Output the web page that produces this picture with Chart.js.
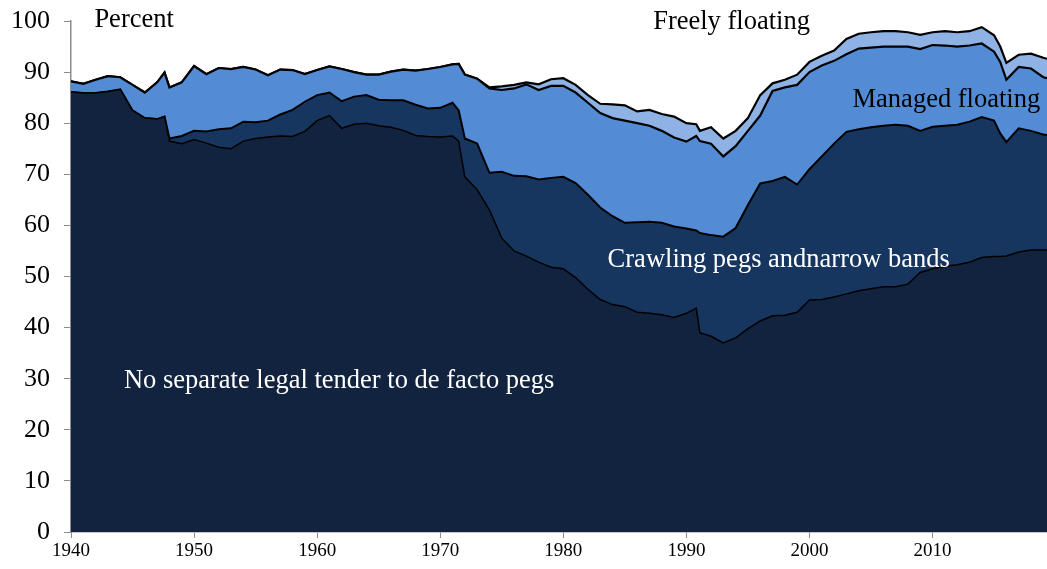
<!DOCTYPE html>
<html>
<head>
<meta charset="utf-8">
<script src="https://cdn.jsdelivr.net/npm/chart.js@4"></script>
<style>
  html, body { margin: 0; padding: 0; background: #ffffff; }
  #wrap { width: 1047px; height: 569px; position: relative; }
</style>
</head>
<body>
<div id="wrap"><canvas id="chart"></canvas></div>
<script>
// Years of the sampled points
const years = [
  1940, 1941, 1942, 1943, 1944, 1945, 1946, 1947, 1947.6, 1948, 1949,
  1950, 1951, 1952, 1953, 1954, 1955, 1956, 1957, 1958, 1959,
  1960, 1961, 1962, 1963, 1964, 1965, 1966, 1967, 1968, 1969,
  1970, 1971, 1971.5, 1972, 1973, 1974, 1975, 1976, 1977, 1978, 1979,
  1980, 1981, 1982, 1983, 1984, 1985, 1986, 1987, 1988, 1989,
  1990, 1990.8, 1991.1, 1992, 1993, 1994, 1995, 1996, 1997, 1998, 1999,
  2000, 2001, 2002, 2003, 2004, 2005, 2006, 2007, 2008, 2009,
  2010, 2011, 2012, 2013, 2014, 2015, 2015.5, 2016, 2017, 2018, 2019, 2019.3
]

// Cumulative shares (percent), bottom layer first
const pegsTop = [
  86.1, 85.9, 85.9, 86.2, 86.6, 82.5, 81.0, 80.8, 81.3, 76.5, 76.0,
  76.8, 76.1, 75.3, 75.0, 76.5, 77.0, 77.3, 77.5, 77.4, 78.4,
  80.5, 81.5, 79.0, 79.8, 80.0, 79.5, 79.2, 78.6, 77.6, 77.4,
  77.3, 77.5, 76.5, 69.5, 67.0, 63.0, 57.5, 55.0, 54.0, 52.8, 51.8,
  51.5, 49.8, 47.5, 45.5, 44.5, 44.1, 43.0, 42.8, 42.5, 42.0,
  42.8, 43.8, 39.0, 38.3, 37.0, 38.0, 39.8, 41.3, 42.3, 42.4, 43.0,
  45.4, 45.5, 46.0, 46.6, 47.2, 47.6, 48.0, 48.0, 48.5, 50.8,
  51.5, 52.0, 52.3, 52.8, 53.7, 53.9, 53.9, 54.0, 54.8, 55.2, 55.2, 55.2
]
const crawlingTop = [
  86.1, 85.9, 85.9, 86.2, 86.6, 82.5, 81.0, 80.8, 81.3, 77.0, 77.5,
  78.5, 78.4, 78.8, 79.0, 80.3, 80.2, 80.5, 81.7, 82.6, 84.2,
  85.5, 86.0, 84.3, 85.2, 85.5, 84.6, 84.5, 84.5, 83.6, 82.9,
  83.0, 84.0, 82.5, 77.0, 76.0, 70.3, 70.5, 69.7, 69.6, 69.0, 69.3,
  69.5, 68.3, 66.0, 63.5, 61.8, 60.5, 60.6, 60.7, 60.5, 59.8,
  59.4, 59.0, 58.5, 58.1, 57.8, 59.5, 64.0, 68.2, 68.7, 69.5, 68.0,
  71.0, 73.5, 76.0, 78.3, 78.8, 79.2, 79.5, 79.7, 79.5, 78.5,
  79.3, 79.5, 79.7, 80.3, 81.2, 80.5, 78.0, 76.3, 79.0, 78.5, 77.8, 77.7
]
const managedTop = [
  88.2, 87.7, 88.5, 89.2, 89.0, 87.5, 86.0, 88.0, 89.9, 87.0, 88.0,
  91.2, 89.6, 90.8, 90.6, 91.0, 90.5, 89.4, 90.5, 90.4, 89.6,
  90.4, 91.1, 90.6, 90.0, 89.5, 89.5, 90.1, 90.5, 90.3, 90.6,
  91.0, 91.5, 91.6, 89.5, 88.7, 86.8, 86.5, 86.8, 87.6, 86.5, 87.3,
  87.3, 86.0, 84.0, 82.0, 81.0, 80.5, 80.0, 79.5, 78.5, 77.2,
  76.4, 77.5, 76.5, 76.0, 73.5, 75.5, 78.5, 81.5, 86.3, 87.0, 87.5,
  90.0, 91.3, 92.2, 93.5, 94.6, 94.8, 95.0, 95.0, 95.0, 94.5,
  95.3, 95.2, 95.0, 95.2, 95.6, 94.0, 92.0, 88.5, 91.0, 90.7, 89.0, 88.8
]
const floatingTop = [
  88.2, 87.7, 88.5, 89.2, 89.0, 87.5, 86.0, 88.0, 89.9, 87.0, 88.0,
  91.2, 89.6, 90.8, 90.6, 91.0, 90.5, 89.4, 90.5, 90.4, 89.6,
  90.4, 91.1, 90.6, 90.0, 89.5, 89.5, 90.1, 90.5, 90.3, 90.6,
  91.0, 91.5, 91.6, 89.5, 88.7, 87.0, 87.2, 87.5, 88.0, 87.6, 88.6,
  88.8, 87.5, 85.5, 83.8, 83.7, 83.5, 82.3, 82.6, 81.8, 81.3,
  80.0, 79.8, 78.5, 79.2, 77.0, 78.5, 81.0, 85.5, 87.8, 88.5, 89.5,
  92.0, 93.2, 94.2, 96.5, 97.5, 97.8, 98.0, 98.0, 97.8, 97.3,
  97.8, 98.0, 97.8, 98.0, 98.8, 97.2, 95.0, 91.8, 93.4, 93.6, 92.8, 92.6
]

const layerColors = ['#12233f', '#17365f', '#538cd4', '#8eb2e3']
const serif = "'Liberation Serif', 'Times New Roman', serif"

// Text labels placed in data units (year, percent)
const notes = [
  { text: 'Percent', year: 1941.9, value: 100.1, color: '#000000' },
  { text: 'Freely floating', year: 1987.3, value: 99.7, color: '#000000' },
  { text: 'Managed floating', year: 2003.5, value: 84.6, color: '#000000' },
  { text: 'Crawling pegs andnarrow bands', year: 1983.6, value: 53.3, color: '#ffffff' },
  { text: 'No separate legal tender to de facto pegs', year: 1944.3, value: 29.6, color: '#ffffff' }
]

const toPoints = (vals) => vals.map((v, i) => ({ x: years[i], y: v }))

const notesPlugin = {
  id: 'notes',
  afterDatasetsDraw(chart) {
    const { ctx, scales } = chart
    ctx.save()
    ctx.font = '26.5px ' + serif
    ctx.textBaseline = 'middle'
    ctx.textAlign = 'left'
    notes.forEach(n => {
      ctx.fillStyle = n.color
      ctx.fillText(n.text, scales.x.getPixelForValue(n.year), scales.y.getPixelForValue(n.value))
    })
    ctx.restore()
  }
}

const layer = (data, idx, width) => ({
  data: toPoints(data),
  backgroundColor: layerColors[idx],
  borderColor: '#000000',
  borderWidth: width,
  fill: idx === 0 ? 'origin' : '-1',
  pointRadius: 0,
  tension: 0
})

new Chart(document.getElementById('chart'), {
  type: 'line',
  data: {
    datasets: [
      layer(pegsTop, 0, 1.5),
      layer(crawlingTop, 1, 2),
      layer(managedTop, 2, 2.2),
      layer(floatingTop, 3, 2.2)
    ]
  },
  options: {
    responsive: true,
    maintainAspectRatio: false,
    animation: false,
    layout: { padding: { top: 21, right: 0, bottom: 0, left: 0 } },
    plugins: {
      legend: { display: false },
      tooltip: { enabled: false }
    },
    scales: {
      x: {
        type: 'linear',
        min: 1940,
        max: 2019.3,
        afterFit: (s) => { s.height = 37 },
        afterBuildTicks: (s) => { s.ticks = s.ticks.filter(t => t.value % 10 === 0) },
        ticks: {
          stepSize: 10,
          autoSkip: false,
          maxRotation: 0,
          padding: 2,
          color: '#000000',
          font: { family: serif, size: 19 },
          callback: (v) => String(v)
        },
        grid: { drawOnChartArea: false, tickLength: 6, color: '#8c8c8c', tickColor: '#8c8c8c' },
        border: { color: '#8c8c8c', width: 1.5 }
      },
      y: {
        min: 0,
        max: 100,
        // fixed width, and no extra room above the top label
        afterFit: (s) => { s.width = 71; s.paddingTop = 0; s.paddingBottom = 0 },
        ticks: {
          stepSize: 10,
          padding: 14,
          color: '#000000',
          font: { family: serif, size: 26 }
        },
        grid: { drawOnChartArea: false, tickLength: 7, color: '#8c8c8c', tickColor: '#8c8c8c' },
        border: { color: '#8c8c8c', width: 1.5 }
      }
    }
  },
  plugins: [notesPlugin]
})
</script>
</body>
</html>
